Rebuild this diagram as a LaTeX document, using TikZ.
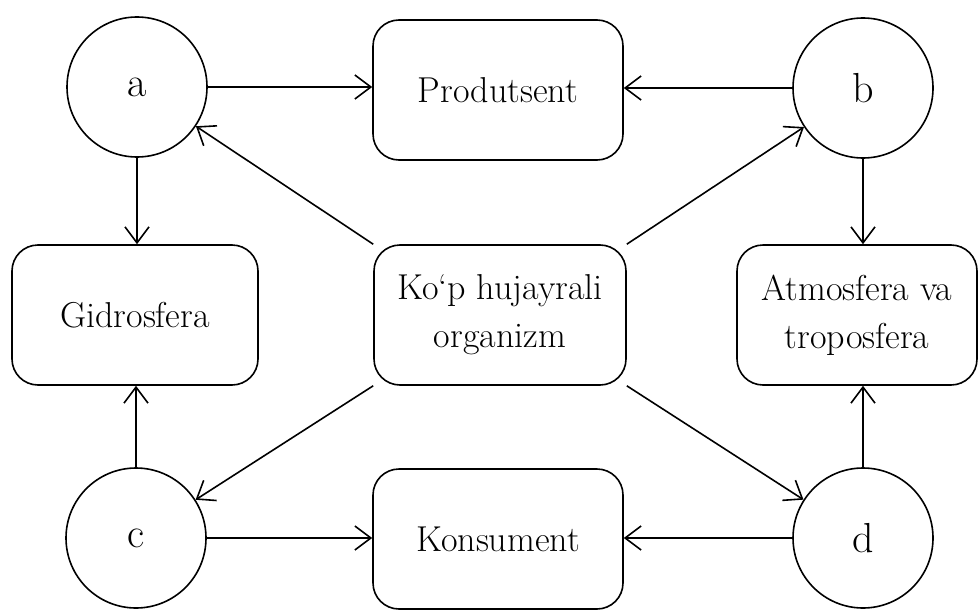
\documentclass[tikz,border=0pt]{standalone}
\usepackage{tikz}
\usetikzlibrary{arrows.meta}
\tikzstyle{state} = [circle, draw, line width=0.8pt, minimum size=70pt,
    inner sep=0pt, font=\fontsize{21}{24}\selectfont]
\tikzstyle{box} = [rectangle, draw, line width=0.8pt, rounded corners=13pt,
    minimum height=70pt, inner sep=2pt, align=center,
    font=\fontsize{18}{24}\selectfont]
\tikzset{>={Straight Barb[length=8pt,width=12pt]}}

\begin{document}
\begin{tikzpicture}[x=0.5pt,y=-0.5pt,line width=0.8pt]
    \useasboundingbox (0,0) rectangle (978,610);
    %circles
    \node[state] (a) at (137, 87) {a};
    \node[state] (b) at (863, 88) {b};
    \node[state] (c) at (136, 538) {c};
    \node[state] (d) at (863, 538) {d};
    %boxes
    \node[box,minimum width=125pt] (prod) at (498, 90) {Produtsent};
    \node[box,minimum width=123pt] (gidro) at (135, 315) {Gidrosfera};
    \node[box,minimum width=126pt] (kop) at (500, 315) {Ko`p hujayrali\\organizm};
    \node[box,minimum width=120pt] (atmo) at (857, 315) {Atmosfera va\\troposfera};
    \node[box,minimum width=125pt] (kons) at (498, 539) {Konsument};
    %horizontal arrows
    \draw[->] (a.east) -- (a.east -| prod.west);
    \draw[->] (b.west) -- (b.west -| prod.east);
    \draw[->] (c.east) -- (c.east -| kons.west);
    \draw[->] (d.west) -- (d.west -| kons.east);
    %vertical arrows
    \draw[->] (a.south) -- (a.south |- gidro.north);
    \draw[->] (c.north) -- (c.north |- gidro.south);
    \draw[->] (b.south) -- (b.south |- atmo.north);
    \draw[->] (d.north) -- (d.north |- atmo.south);
    %diagonal arrows
    \draw[->] (kop.north west) -- (a);
    \draw[->] (kop.north east) -- (b);
    \draw[->] (kop.south west) -- (c);
    \draw[->] (kop.south east) -- (d);
\end{tikzpicture}
\end{document}
